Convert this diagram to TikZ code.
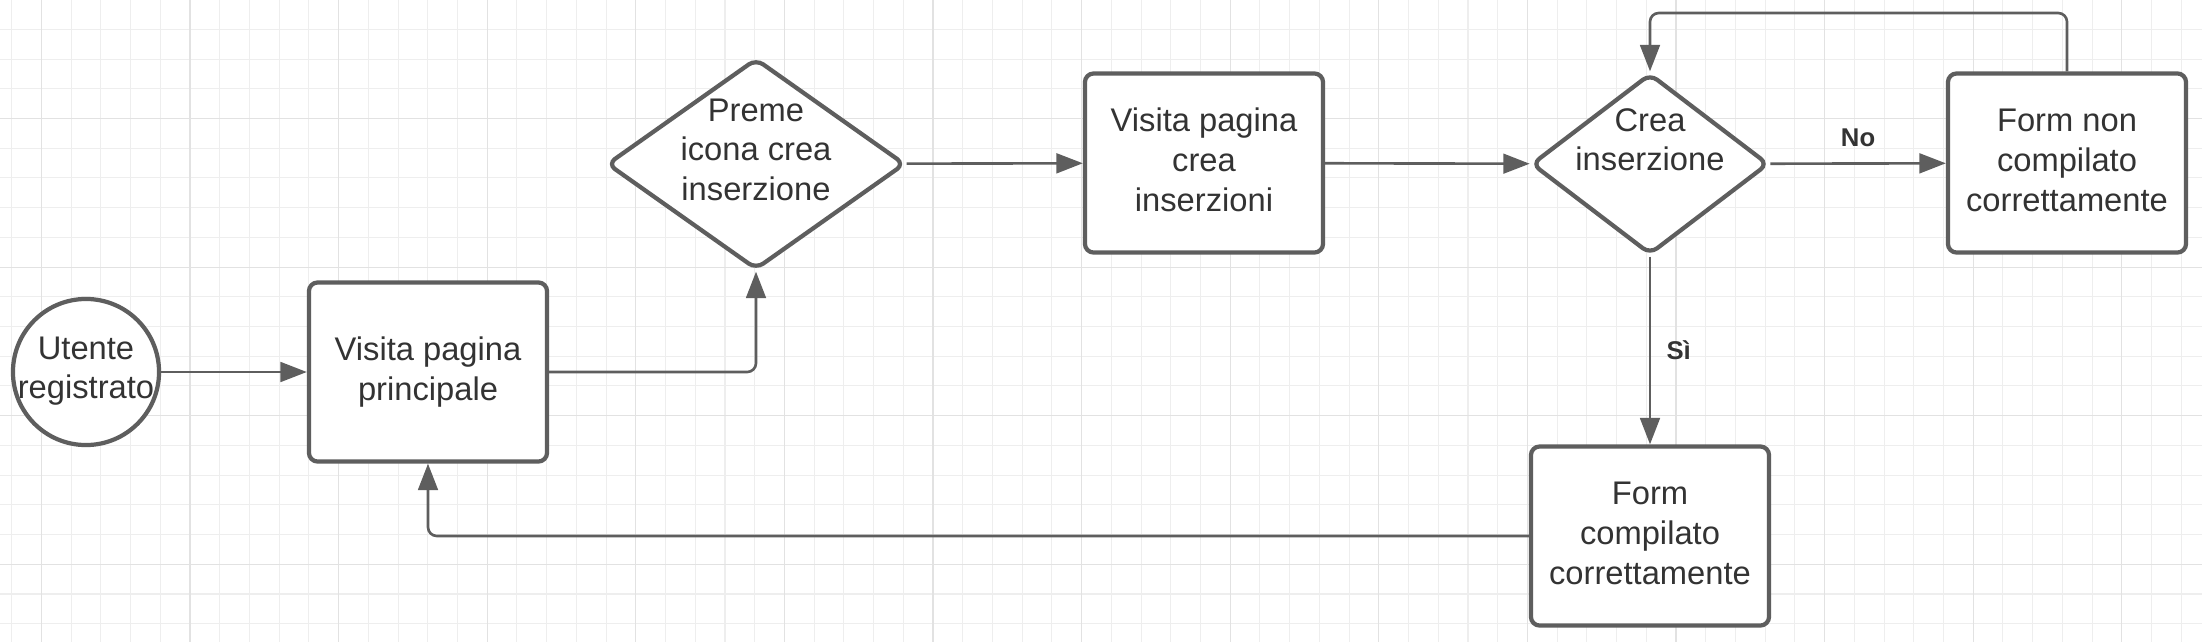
\documentclass[tikz,border=0pt]{standalone}
\usepackage{fontspec}
\setmainfont{Liberation Sans}
\usetikzlibrary{arrows.meta,shapes.geometric}

\definecolor{linegray}{HTML}{5E5E5E}
\definecolor{textgray}{HTML}{333333}
\definecolor{gridminor}{HTML}{EEEEEE}
\definecolor{gridmajor}{HTML}{E2E2E2}

% text of a shape that may overflow it, lifted a little
\newcommand{\liftedtext}[2]{\raisebox{#1}[0pt][0pt]{\begin{tabular}{@{}c@{}}#2\end{tabular}}}

\begin{document}
\begin{tikzpicture}[x=0.01cm,y=-0.01cm,>={Triangle[length=7.5pt,width=5.6pt]},
  flow/.style={->,draw=linegray,line width=0.75pt,rounded corners=2.5pt},
  main node/.style={draw=linegray,line width=1.2pt,fill=white,text=textgray,
    font=\fontsize{9.3pt}{11.3pt}\selectfont,inner sep=0pt},
  start node/.style={main node,circle,minimum size=1.46cm},
  page node/.style={main node,rectangle,rounded corners=2.5pt,align=center,
    minimum width=2.38cm,minimum height=1.79cm},
  choice node/.style={main node,diamond,rounded corners=2.5pt},
  edge label/.style={text=textgray,font=\bfseries\fontsize{7.3pt}{9pt}\selectfont}]

\useasboundingbox (0,0) rectangle (2202,642);
\fill[white] (0,0) rectangle (2202,642);
% grid
\foreach \k in {0,...,73}
  \draw[gridminor,line width=0.3pt] ({11.7+29.72*\k},0) -- ({11.7+29.72*\k},642);
\foreach \k in {0,...,21}
  \draw[gridminor,line width=0.3pt] (0,{-0.4+29.72*\k}) -- (2202,{-0.4+29.72*\k});
\foreach \k in {0,...,14}
  \draw[gridmajor,line width=0.3pt] ({41.4+148.6*\k},0) -- ({41.4+148.6*\k},642);
\foreach \k in {0,...,3}
  \draw[gridmajor,line width=0.3pt] (0,{118.5+148.6*\k}) -- (2202,{118.5+148.6*\k});

\node[start node] (user) at (86,372) {\liftedtext{-2pt}{Utente\\registrato}};
\node[page node] (home) at (428,372) {Visita pagina\\principale};
\node[choice node,minimum width=2.98cm,minimum height=2.11cm] (icon) at (756,164)
  {\liftedtext{0.9pt}{Preme\\icona crea\\inserzione}};
\node[page node] (newpage) at (1204,163) {\liftedtext{-2.4pt}{Visita pagina\\crea\\inserzioni}};
\node[choice node,minimum width=2.37cm,minimum height=1.81cm] (create) at (1650,164)
  {\liftedtext{3.7pt}{Crea\\inserzione}};
\node[page node] (formko) at (2067,163) {\liftedtext{-2.4pt}{Form non\\compilato\\correttamente}};
\node[page node] (formok) at (1650,536) {\liftedtext{-2.4pt}{Form\\compilato\\correttamente}};
\coordinate (looptop) at (1650,13);

\draw[flow] (user) -- (home);
\draw[flow] (home) -| (icon);
\draw[flow] (icon) -- (newpage);
\draw[flow] (newpage) -- (create);
\draw[flow] (create) -- node[above=1pt,edge label] {No} (formko);
\draw[flow] (formko.north) |- (looptop) -- (create.north);
\draw[flow] (create) -- node[right=1pt,edge label] {Sì} (formok);
\draw[flow] (formok) -| (home);
\end{tikzpicture}
\end{document}
